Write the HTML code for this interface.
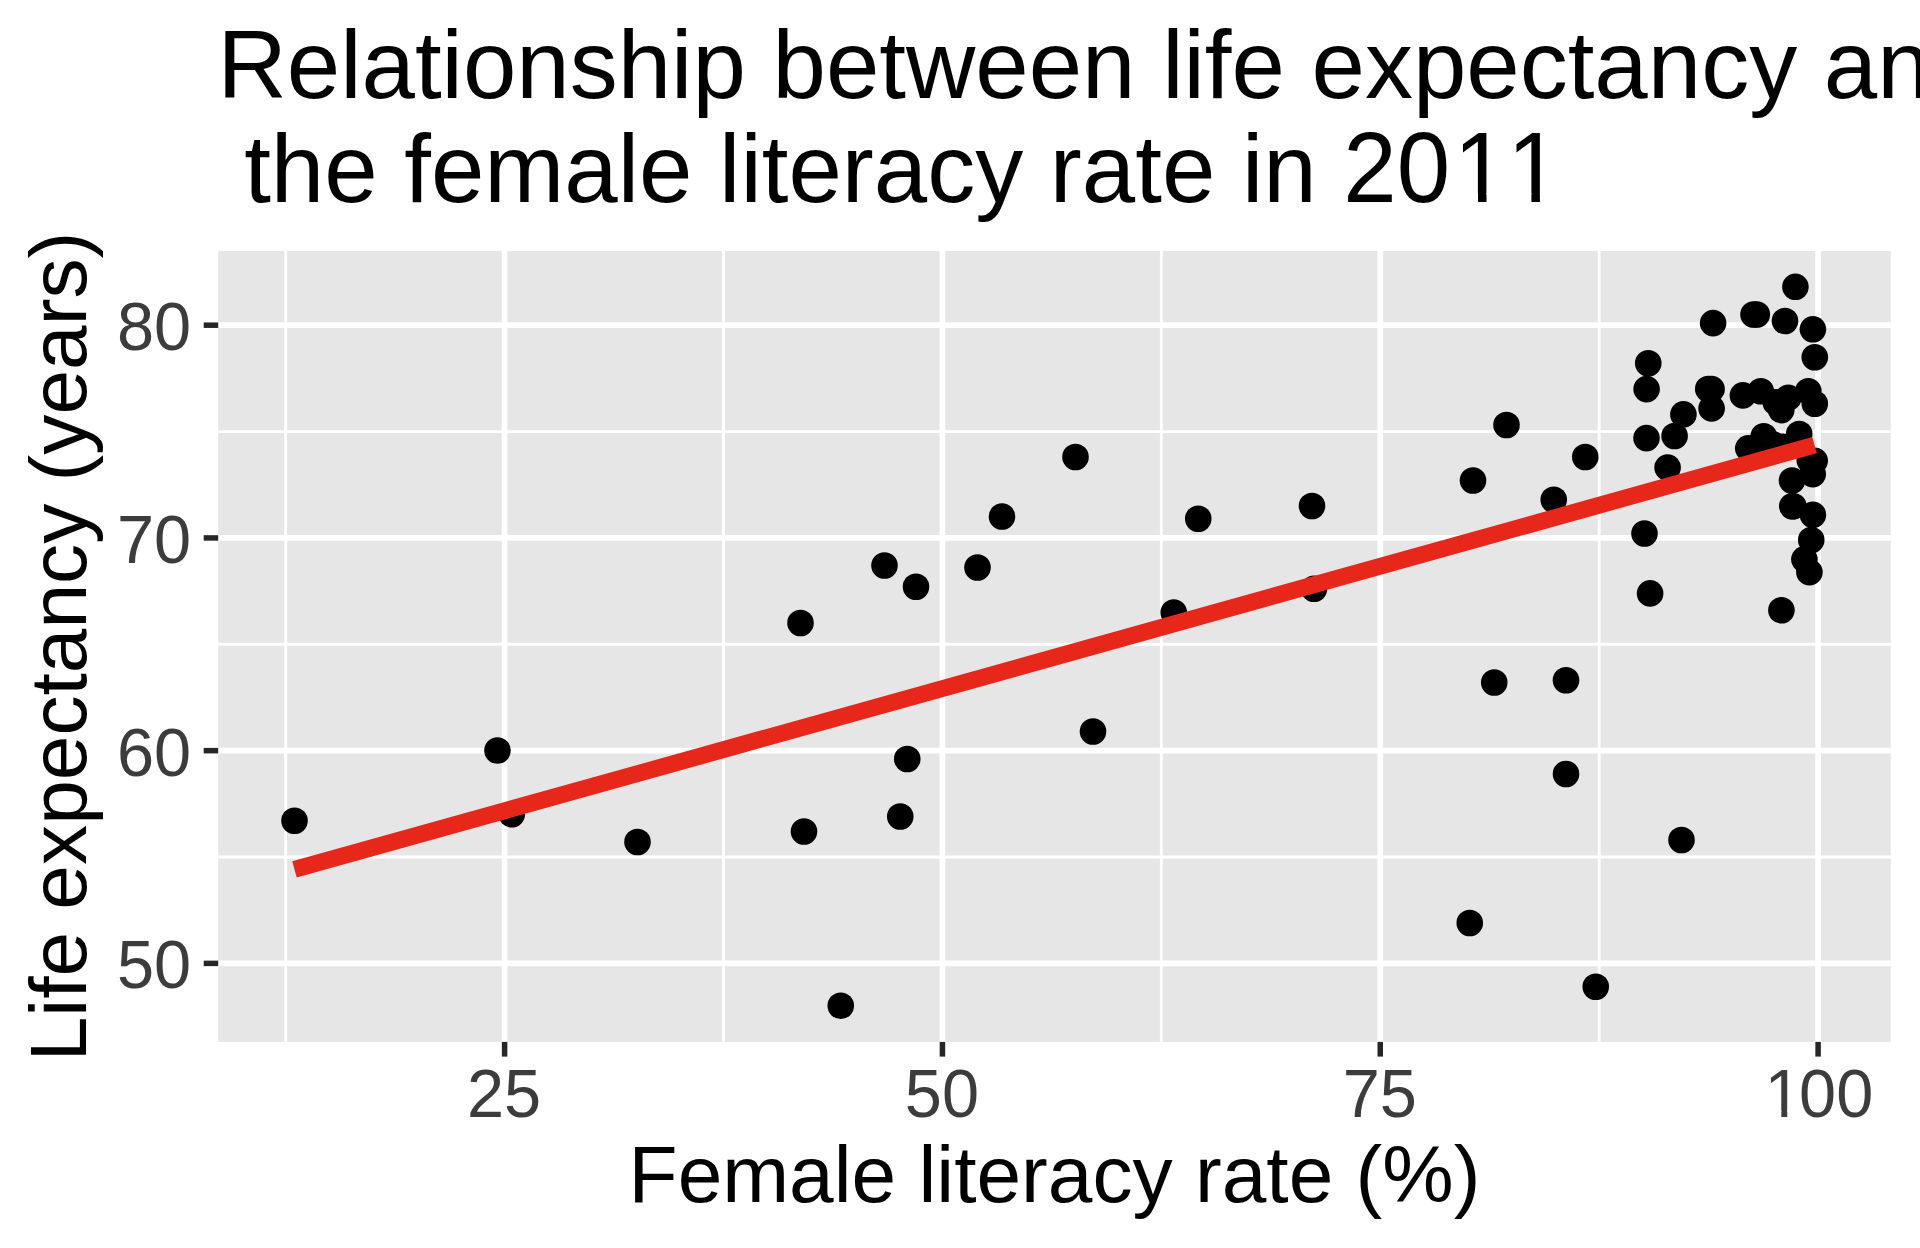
<!DOCTYPE html>
<html lang="en">
<head>
<meta charset="utf-8">
<title>Relationship between life expectancy and the female literacy rate in 2011</title>
<style>
html,body{margin:0;padding:0;background:#fff;}
body{width:1920px;height:1248px;overflow:hidden;}
svg{display:block;}
text{font-family:"Liberation Sans",Arial,Helvetica,sans-serif;font-kerning:none;}
.title{font-size:96px;fill:#000;white-space:pre;}
.axt{font-size:80.25px;fill:#000;}
.lab{font-size:66.7px;fill:#3c3c3c;}
</style>
</head>
<body>
<svg width="1920" height="1248" viewBox="0 0 1920 1248">
<rect x="0" y="0" width="1920" height="1248" fill="#ffffff"/>
<rect x="218.2" y="251.0" width="1672.6" height="790.9" fill="#e6e6e6"/>
<g stroke="#ffffff" stroke-width="2.85" fill="none">
<line x1="218.2" x2="1890.8" y1="857.03" y2="857.03"/>
<line x1="218.2" x2="1890.8" y1="644.29" y2="644.29"/>
<line x1="218.2" x2="1890.8" y1="431.56" y2="431.56"/>
<line x1="285.68" x2="285.68" y1="251.0" y2="1041.9"/>
<line x1="723.52" x2="723.52" y1="251.0" y2="1041.9"/>
<line x1="1161.35" x2="1161.35" y1="251.0" y2="1041.9"/>
<line x1="1599.18" x2="1599.18" y1="251.0" y2="1041.9"/>
</g>
<g stroke="#ffffff" stroke-width="5.7" fill="none">
<line x1="218.2" x2="1890.8" y1="963.39" y2="963.39"/>
<line x1="218.2" x2="1890.8" y1="750.66" y2="750.66"/>
<line x1="218.2" x2="1890.8" y1="537.93" y2="537.93"/>
<line x1="218.2" x2="1890.8" y1="325.20" y2="325.20"/>
<line x1="504.60" x2="504.60" y1="251.0" y2="1041.9"/>
<line x1="942.43" x2="942.43" y1="251.0" y2="1041.9"/>
<line x1="1380.27" x2="1380.27" y1="251.0" y2="1041.9"/>
<line x1="1818.10" x2="1818.10" y1="251.0" y2="1041.9"/>
</g>
<g fill="#000000">
<circle cx="294.50" cy="820.75" r="13.3"/>
<circle cx="497.50" cy="750.50" r="13.3"/>
<circle cx="511.75" cy="814.25" r="13.3"/>
<circle cx="637.50" cy="842.00" r="13.3"/>
<circle cx="800.50" cy="623.00" r="13.3"/>
<circle cx="884.50" cy="565.50" r="13.3"/>
<circle cx="916.00" cy="586.75" r="13.3"/>
<circle cx="977.50" cy="567.50" r="13.3"/>
<circle cx="1002.00" cy="516.50" r="13.3"/>
<circle cx="1075.50" cy="457.00" r="13.3"/>
<circle cx="1198.25" cy="518.75" r="13.3"/>
<circle cx="1173.75" cy="612.50" r="13.3"/>
<circle cx="804.00" cy="831.50" r="13.3"/>
<circle cx="900.25" cy="816.50" r="13.3"/>
<circle cx="907.25" cy="759.00" r="13.3"/>
<circle cx="1093.00" cy="731.50" r="13.3"/>
<circle cx="840.75" cy="1005.75" r="13.3"/>
<circle cx="1312.00" cy="506.00" r="13.3"/>
<circle cx="1314.00" cy="588.75" r="13.3"/>
<circle cx="1473.00" cy="480.50" r="13.3"/>
<circle cx="1506.50" cy="425.00" r="13.3"/>
<circle cx="1553.75" cy="499.75" r="13.3"/>
<circle cx="1585.25" cy="457.00" r="13.3"/>
<circle cx="1494.25" cy="682.50" r="13.3"/>
<circle cx="1566.00" cy="680.25" r="13.3"/>
<circle cx="1644.50" cy="533.50" r="13.3"/>
<circle cx="1650.10" cy="593.40" r="13.3"/>
<circle cx="1646.50" cy="438.10" r="13.3"/>
<circle cx="1674.60" cy="436.00" r="13.3"/>
<circle cx="1667.60" cy="467.60" r="13.3"/>
<circle cx="1683.40" cy="414.40" r="13.3"/>
<circle cx="1566.00" cy="774.00" r="13.3"/>
<circle cx="1681.50" cy="840.00" r="13.3"/>
<circle cx="1469.75" cy="923.00" r="13.3"/>
<circle cx="1595.75" cy="986.75" r="13.3"/>
<circle cx="1795.40" cy="286.80" r="13.3"/>
<circle cx="1753.50" cy="314.50" r="13.3"/>
<circle cx="1756.80" cy="314.50" r="13.3"/>
<circle cx="1713.10" cy="323.10" r="13.3"/>
<circle cx="1785.00" cy="321.00" r="13.3"/>
<circle cx="1812.90" cy="329.30" r="13.3"/>
<circle cx="1814.80" cy="357.25" r="13.3"/>
<circle cx="1648.25" cy="363.25" r="13.3"/>
<circle cx="1646.60" cy="389.10" r="13.3"/>
<circle cx="1708.25" cy="389.00" r="13.3"/>
<circle cx="1711.60" cy="389.10" r="13.3"/>
<circle cx="1711.60" cy="408.40" r="13.3"/>
<circle cx="1742.90" cy="395.40" r="13.3"/>
<circle cx="1760.80" cy="391.25" r="13.3"/>
<circle cx="1788.30" cy="397.70" r="13.3"/>
<circle cx="1808.30" cy="391.20" r="13.3"/>
<circle cx="1814.80" cy="403.75" r="13.3"/>
<circle cx="1775.80" cy="402.40" r="13.3"/>
<circle cx="1781.25" cy="410.10" r="13.3"/>
<circle cx="1763.75" cy="436.20" r="13.3"/>
<circle cx="1799.20" cy="434.00" r="13.3"/>
<circle cx="1748.25" cy="448.30" r="13.3"/>
<circle cx="1782.50" cy="446.70" r="13.3"/>
<circle cx="1814.70" cy="460.80" r="13.3"/>
<circle cx="1812.75" cy="474.10" r="13.3"/>
<circle cx="1792.00" cy="480.50" r="13.3"/>
<circle cx="1792.30" cy="506.25" r="13.3"/>
<circle cx="1812.90" cy="514.80" r="13.3"/>
<circle cx="1811.25" cy="540.00" r="13.3"/>
<circle cx="1804.40" cy="559.30" r="13.3"/>
<circle cx="1809.40" cy="572.20" r="13.3"/>
<circle cx="1781.40" cy="610.25" r="13.3"/>
<circle cx="1772.70" cy="444.20" r="13.3"/>
<circle cx="1809.80" cy="460.30" r="13.3"/>
<circle cx="1793.40" cy="506.20" r="13.3"/>
</g>
<line x1="294.5" y1="869.4" x2="1814.5" y2="445.1" stroke="#e8271b" stroke-width="16.8" stroke-linecap="butt"/>
<g stroke="#262626" stroke-width="5.5" fill="none">
<line x1="203.7" x2="218.2" y1="963.39" y2="963.39"/>
<line x1="203.7" x2="218.2" y1="750.66" y2="750.66"/>
<line x1="203.7" x2="218.2" y1="537.93" y2="537.93"/>
<line x1="203.7" x2="218.2" y1="325.20" y2="325.20"/>
<line x1="504.60" x2="504.60" y1="1041.9" y2="1056.6"/>
<line x1="942.43" x2="942.43" y1="1041.9" y2="1056.6"/>
<line x1="1380.27" x2="1380.27" y1="1041.9" y2="1056.6"/>
<line x1="1818.10" x2="1818.10" y1="1041.9" y2="1056.6"/>
</g>
<text class="lab" text-anchor="end" transform="translate(191.2,988.3) scale(1,1.034)">50</text>
<text class="lab" text-anchor="end" transform="translate(191.2,775.6) scale(1,1.034)">60</text>
<text class="lab" text-anchor="end" transform="translate(191.2,562.8) scale(1,1.034)">70</text>
<text class="lab" text-anchor="end" transform="translate(191.2,350.1) scale(1,1.034)">80</text>
<text class="lab" text-anchor="middle" transform="translate(504.1,1116.9) scale(1,1.034)">25</text>
<text class="lab" text-anchor="middle" transform="translate(941.9,1116.9) scale(1,1.034)">50</text>
<text class="lab" text-anchor="middle" transform="translate(1379.8,1116.9) scale(1,1.034)">75</text>
<text class="lab" transform="translate(1761.95,1116.9) scale(1,1.034)"><tspan x="2.61">1</tspan><tspan x="37.10">00</tspan></text>
<rect x="1768.14" y="1110.45" width="13.19" height="7.85" fill="#ffffff"/>
<rect x="1787.23" y="1110.45" width="12.67" height="7.85" fill="#ffffff"/>
<text class="title" x="217.5" y="98.25" xml:space="preserve">Relationship between life expectancy and</text>
<text class="title" x="217.5" y="202" xml:space="preserve"> the female literacy rate in </text>
<text class="title" transform="translate(1343.34,202) scale(1,1.034)"><tspan x="0">20</tspan><tspan x="110.53">1</tspan><tspan x="163.92">1</tspan></text>
<rect x="1459.69" y="193.28" width="18.33" height="10.12" fill="#ffffff"/>
<rect x="1486.50" y="193.28" width="17.58" height="10.12" fill="#ffffff"/>
<rect x="1513.08" y="193.28" width="18.33" height="10.12" fill="#ffffff"/>
<rect x="1539.89" y="193.28" width="17.58" height="10.12" fill="#ffffff"/>
<text class="axt" text-anchor="middle" x="1054.5" y="1202">Female literacy rate (%)</text>
<text class="axt" text-anchor="middle" transform="translate(86.1,646.5) rotate(-90)">Life expectancy (years)</text>
</svg>
</body>
</html>
